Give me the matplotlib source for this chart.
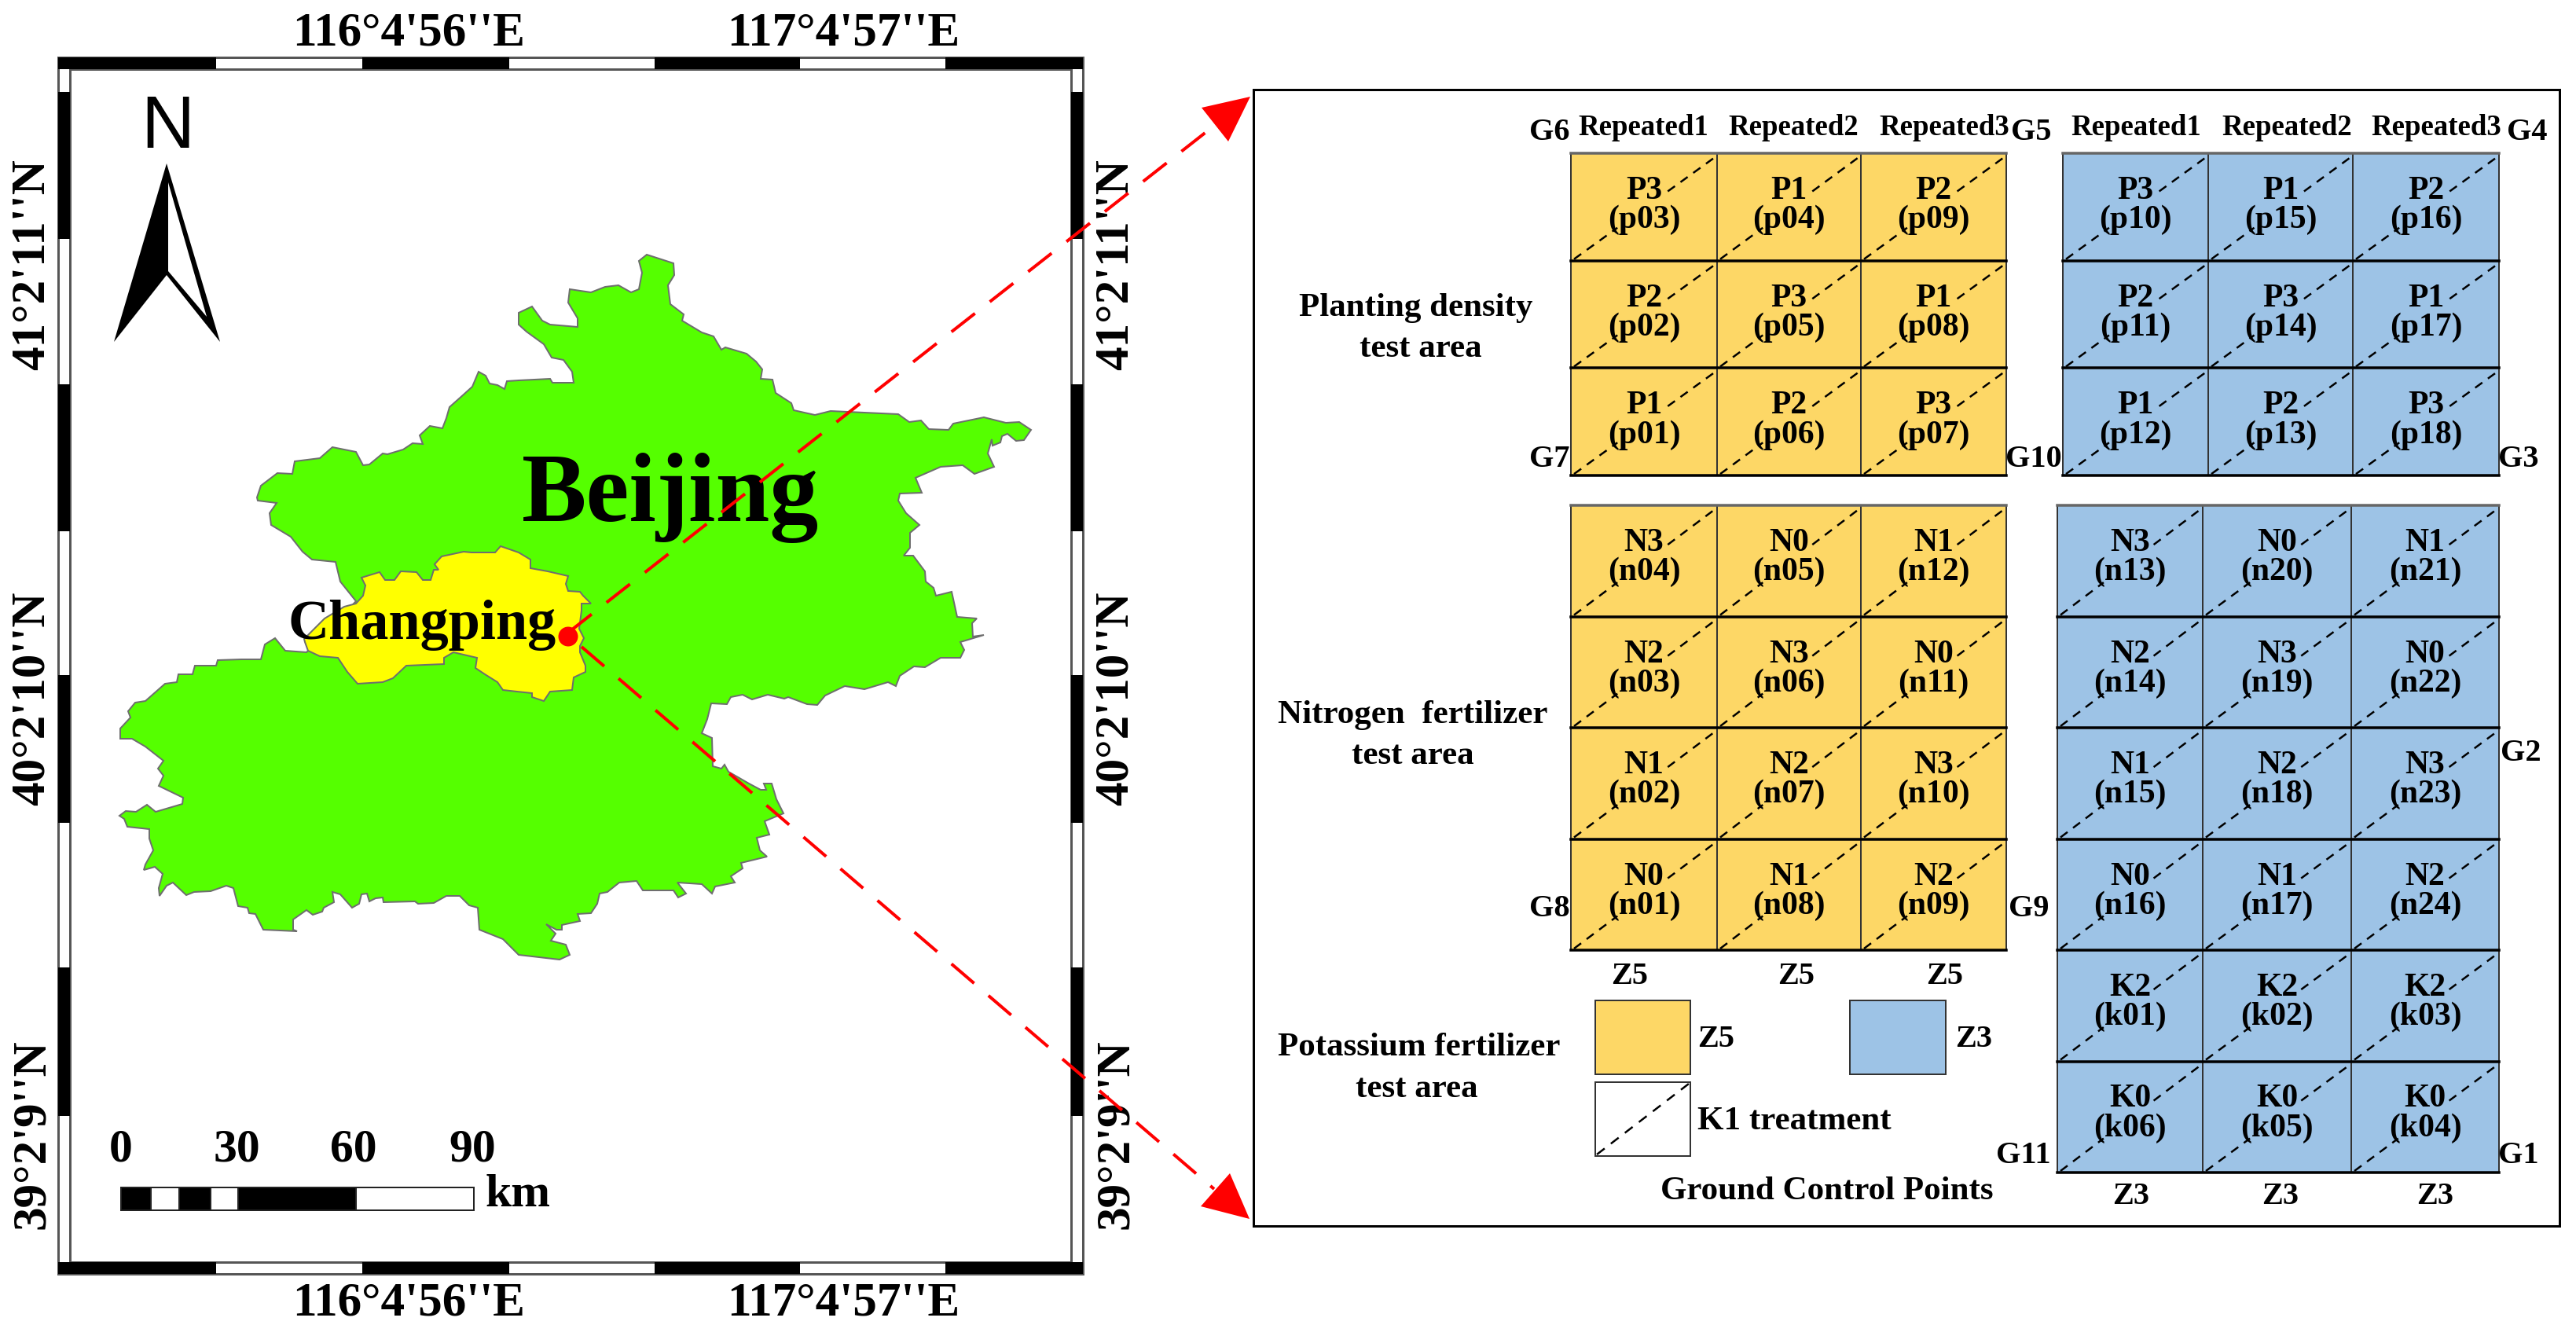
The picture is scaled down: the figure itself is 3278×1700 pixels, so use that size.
import matplotlib
matplotlib.use("Agg")
import matplotlib.pyplot as plt
from matplotlib.patches import Polygon, Rectangle, Circle

plt.rcParams["font.family"] = ["Liberation Serif", "DejaVu Serif"]
plt.rcParams["font.weight"] = "bold"

# outlines, in image pixels
beijing_outline = [
    (327, 633), (332, 618), (353, 602), (372, 603), (375, 587), (407, 583), (423, 569), (453, 575),
    (462, 592), (470, 591), (487, 577), (493, 578), (513, 572), (525, 564), (538, 565), (534, 554),
    (547, 542), (563, 545), (568, 532), (572, 518), (590, 502), (601, 492), (609, 473), (618, 478),
    (623, 488), (633, 490), (642, 495), (645, 485), (660, 484), (700, 482), (703, 487), (730, 487),
    (728, 473), (717, 458), (702, 455), (692, 438), (670, 422), (660, 413), (660, 398), (677, 390),
    (690, 408), (700, 413), (735, 416), (735, 405), (723, 385), (725, 368), (752, 372), (770, 365),
    (787, 363), (803, 372), (813, 368), (817, 347), (813, 332), (823, 324), (857, 335), (858, 350),
    (850, 363), (853, 387), (870, 400), (868, 408), (893, 423), (908, 428), (918, 445), (923, 442),
    (950, 450), (962, 460), (970, 470), (968, 482), (983, 483), (987, 500), (1007, 513), (1010, 522),
    (1037, 528), (1057, 523), (1143, 527), (1157, 537), (1172, 535), (1182, 546), (1207, 547),
    (1213, 539), (1252, 531), (1280, 538), (1297, 537), (1312, 547), (1303, 560), (1293, 561),
    (1282, 552), (1275, 555), (1273, 563), (1263, 567), (1262, 559), (1257, 577), (1265, 594),
    (1240, 603), (1225, 592), (1197, 594), (1165, 608), (1173, 627), (1145, 628), (1143, 637),
    (1153, 653), (1170, 668), (1158, 678), (1158, 697), (1150, 707), (1162, 707), (1177, 727),
    (1178, 740), (1188, 748), (1191, 758), (1211, 753), (1218, 785), (1243, 787), (1237, 793),
    (1238, 810), (1252, 808), (1222, 817), (1227, 827), (1222, 837), (1197, 837), (1177, 849),
    (1163, 848), (1145, 860), (1140, 873), (1130, 868), (1100, 877), (1075, 873), (1050, 885),
    (1040, 897), (1027, 896), (1003, 887), (998, 889), (977, 884), (957, 890), (945, 884), (930, 887),
    (925, 896), (905, 895), (900, 915), (893, 933), (906, 939), (907, 975), (918, 978), (922, 973),
    (927, 982), (953, 997), (968, 1005), (975, 1005), (972, 997), (982, 997), (988, 1017), (997, 1035),
    (973, 1045), (979, 1062), (963, 1066), (967, 1082), (976, 1090), (943, 1098), (945, 1105),
    (930, 1115), (935, 1123), (910, 1128), (906, 1137), (893, 1125), (862, 1123), (873, 1137),
    (863, 1142), (857, 1133), (818, 1133), (810, 1121), (788, 1123), (773, 1135), (763, 1137),
    (760, 1150), (752, 1162), (735, 1163), (738, 1172), (715, 1177), (715, 1183), (708, 1183),
    (695, 1176), (707, 1188), (701, 1197), (720, 1202), (725, 1215), (712, 1221), (660, 1215),
    (640, 1195), (610, 1183), (608, 1155), (597, 1152), (585, 1140), (568, 1140), (552, 1149),
    (532, 1150), (528, 1147), (488, 1148), (487, 1142), (478, 1143), (470, 1147), (467, 1137),
    (460, 1138), (457, 1150), (448, 1155), (433, 1138), (423, 1135), (425, 1148), (412, 1155),
    (410, 1160), (398, 1164), (390, 1158), (373, 1170), (373, 1183), (378, 1185), (335, 1183),
    (325, 1163), (317, 1162), (315, 1155), (303, 1153), (297, 1130), (288, 1127), (268, 1134),
    (247, 1135), (237, 1139), (220, 1123), (212, 1127), (203, 1140), (202, 1130), (207, 1112),
    (197, 1103), (183, 1107), (185, 1100), (195, 1082), (190, 1067), (190, 1055), (162, 1052),
    (158, 1042), (152, 1038), (160, 1032), (173, 1033), (187, 1024), (198, 1033), (232, 1023),
    (233, 1015), (202, 1000), (208, 987), (201, 978), (208, 968), (185, 950), (168, 940), (153, 940),
    (153, 927), (166, 913), (163, 905), (172, 894), (185, 892), (210, 870), (225, 868), (227, 858),
    (245, 858), (248, 847), (275, 847), (277, 840), (307, 839), (332, 839), (337, 820), (350, 812),
    (363, 828), (390, 830), (453, 765), (433, 740), (427, 715), (397, 712), (385, 702), (370, 683),
    (345, 668), (343, 653), (352, 640), (328, 637),
]
changping_outline = [
    (388, 817), (392, 828), (407, 835), (430, 837), (442, 855), (455, 870), (487, 868), (500, 863),
    (517, 847), (565, 845), (565, 837), (577, 830), (607, 837), (605, 850), (617, 858), (633, 868),
    (640, 878), (658, 880), (677, 882), (677, 887), (692, 892), (700, 880), (728, 878), (730, 862),
    (745, 855), (745, 847), (738, 830), (738, 822), (743, 812), (737, 800), (740, 777), (740, 768),
    (752, 768), (742, 758), (738, 753), (723, 752), (720, 743), (723, 733), (697, 727), (675, 723),
    (675, 712), (660, 703), (637, 695), (630, 703), (600, 703), (590, 702), (562, 708), (553, 718),
    (558, 725), (552, 725), (548, 738), (538, 738), (530, 728), (510, 727), (502, 738), (490, 738),
    (483, 728), (460, 735), (465, 745), (462, 758), (453, 768), (438, 772), (413, 787), (387, 813),
]

frame_x_edges = [74, 275, 461, 648, 833, 1018, 1203, 1378]
frame_y_edges = [73, 117, 304, 489, 676, 859, 1047, 1231, 1420, 1621]
lon_labels = ["116°4'56''E", "117°4'57''E"]
lon_label_x = [520, 1073]
lat_labels = ["41°2'11''N", "40°2'10''N", "39°2'9''N"]
lat_label_y = [337, 889, 1443]

scale_edges = [154, 192, 228, 268, 303, 453, 603]
scale_labels = ["0", "30", "60", "90"]
scale_label_x = [154, 301, 450, 601]

yellow_p = [["P3\n(p03)", "P1\n(p04)", "P2\n(p09)"],
            ["P2\n(p02)", "P3\n(p05)", "P1\n(p08)"],
            ["P1\n(p01)", "P2\n(p06)", "P3\n(p07)"]]
blue_p = [["P3\n(p10)", "P1\n(p15)", "P2\n(p16)"],
          ["P2\n(p11)", "P3\n(p14)", "P1\n(p17)"],
          ["P1\n(p12)", "P2\n(p13)", "P3\n(p18)"]]
yellow_n = [["N3\n(n04)", "N0\n(n05)", "N1\n(n12)"],
            ["N2\n(n03)", "N3\n(n06)", "N0\n(n11)"],
            ["N1\n(n02)", "N2\n(n07)", "N3\n(n10)"],
            ["N0\n(n01)", "N1\n(n08)", "N2\n(n09)"]]
blue_nk = [["N3\n(n13)", "N0\n(n20)", "N1\n(n21)"],
           ["N2\n(n14)", "N3\n(n19)", "N0\n(n22)"],
           ["N1\n(n15)", "N2\n(n18)", "N3\n(n23)"],
           ["N0\n(n16)", "N1\n(n17)", "N2\n(n24)"],
           ["K2\n(k01)", "K2\n(k02)", "K2\n(k03)"],
           ["K0\n(k06)", "K0\n(k05)", "K0\n(k04)"]]

repeated_labels = ["Repeated1", "Repeated2", "Repeated3"] * 2
repeated_x = [2091, 2282, 2474, 2718, 2910, 3100]

gcp_labels = ["G6", "G5", "G4", "G7", "G10", "G3", "G8", "G9", "G2", "G11", "G1"]
gcp_x = [1972, 2585, 3216, 1972, 2588, 3205, 1972, 2582, 3208, 2575, 3205]
gcp_y = [168, 168, 168, 584, 584, 584, 1157, 1157, 958, 1471, 1471]

zone_labels = ["Z5", "Z5", "Z5", "Z3", "Z3", "Z3"]
zone_x = [2074, 2286, 2475, 2712, 2902, 3099]
zone_y = [1242, 1242, 1242, 1523, 1523, 1523]

YELLOW = "#FDD766"
BLUE = "#9DC3E6"
RED = "#FF0000"

figure = plt.figure(figsize=(32.78, 17), dpi=100)
axes = figure.add_axes([0, 0, 1, 1])
axes.set_xlim(0, 3278)
axes.set_ylim(1700, 0)
axes.axis("off")


def px(n):
    # line widths are read in pixels, matplotlib wants points
    return n * 0.72


def draw_frame():
    x0, x1 = frame_x_edges[0], frame_x_edges[-1]
    y0, y1 = frame_y_edges[0], frame_y_edges[-1]
    band = 15
    axes.add_patch(Rectangle((x0, y0), x1 - x0, y1 - y0, fc="white", ec="#555555", lw=px(3), zorder=1))
    axes.add_patch(Rectangle((x0 + band, y0 + band), x1 - x0 - 2 * band, y1 - y0 - 2 * band,
                             fc="white", ec="#555555", lw=px(3), zorder=2))
    for i in range(0, len(frame_x_edges) - 1, 2):
        left, right = frame_x_edges[i], frame_x_edges[i + 1]
        axes.add_patch(Rectangle((left, y0), right - left, band, fc="black", ec="none", zorder=2))
        axes.add_patch(Rectangle((left, y1 - band), right - left, band, fc="black", ec="none", zorder=2))
    for i in range(1, len(frame_y_edges) - 1, 2):
        top, bottom = frame_y_edges[i], frame_y_edges[i + 1]
        axes.add_patch(Rectangle((x0, top), band, bottom - top, fc="black", ec="none", zorder=2))
        axes.add_patch(Rectangle((x1 - band, top), band, bottom - top, fc="black", ec="none", zorder=2))
    for label, x in zip(lon_labels, lon_label_x):
        axes.text(x, 42, label, fontsize=44, ha="center", va="center")
        axes.text(x, 1658, label, fontsize=44, ha="center", va="center")
    for label, y in zip(lat_labels, lat_label_y):
        axes.text(41, y, label, fontsize=44, rotation=90, ha="center", va="center")
        axes.text(1420, y, label, fontsize=44, rotation=90, ha="center", va="center")


def draw_north_arrow():
    axes.text(213, 163, "N", fontsize=68, family="Liberation Sans", weight="normal",
              ha="center", va="center", zorder=5)
    axes.add_patch(Polygon([(212, 208), (280, 435), (212, 350), (145, 435)], fc="black", ec="none", zorder=5))
    axes.add_patch(Polygon([(214, 232), (263, 403), (214, 345)], fc="white", ec="none", zorder=6))


def draw_scale_bar():
    for i in range(len(scale_edges) - 1):
        color = "black" if i % 2 == 0 else "white"
        axes.add_patch(Rectangle((scale_edges[i], 1511), scale_edges[i + 1] - scale_edges[i], 29,
                                 fc=color, ec="#222222", lw=px(2), zorder=5))
    for label, x in zip(scale_labels, scale_label_x):
        axes.text(x, 1463, label, fontsize=43, ha="center", va="center", zorder=5)
    axes.text(659, 1521, "km", fontsize=43, ha="center", va="center", zorder=5)


def draw_map():
    axes.add_patch(Polygon(beijing_outline, fc="#55FF00", ec="#6E6E6E", lw=px(2), zorder=3))
    axes.add_patch(Polygon(changping_outline, fc="#FFFF00", ec="#6E6E6E", lw=px(2), zorder=4))
    axes.text(664, 663, "Beijing", fontsize=89, ha="left", va="baseline", zorder=5)
    axes.text(366, 813, "Changping", fontsize=52, ha="left", va="baseline", zorder=5)


def draw_callout():
    axes.add_patch(Circle((723, 810), 12.5, fc=RED, ec="none", zorder=8))
    dash = (0, (9.5, 6))
    axes.plot([723, 1545], [805, 160], color=RED, lw=px(4), ls=dash, zorder=7)
    axes.plot([740, 1545], [823, 1513], color=RED, lw=px(4), ls=dash, zorder=7)
    axes.add_patch(Polygon([(1591, 123), (1529, 137), (1563, 180)], fc=RED, ec="none", zorder=8))
    axes.add_patch(Polygon([(1590, 1551), (1528, 1535), (1565, 1493)], fc=RED, ec="none", zorder=8))


def draw_cell_diagonal(x0, x1, y0, y1):
    # the diagonal is hidden behind the middle of the cell text
    for a, b in [(0.0, 0.31), (0.67, 1.0)]:
        axes.plot([x0 + 4 + a * (x1 - x0 - 8), x0 + 4 + b * (x1 - x0 - 8)],
                  [y1 - 2 - a * (y1 - y0 - 8), y1 - 2 - b * (y1 - y0 - 8)],
                  color="black", lw=px(2.5), ls=(0, (4.5, 3.5)), zorder=12)


def draw_grid(labels, x_edges, top, row_height, color):
    rows = len(labels)
    bottom = top + rows * row_height
    axes.add_patch(Rectangle((x_edges[0], top), x_edges[-1] - x_edges[0], rows * row_height,
                             fc=color, ec="none", zorder=10))
    for r, row in enumerate(labels):
        y0 = top + r * row_height
        y1 = y0 + row_height
        for c, label in enumerate(row):
            x0, x1 = x_edges[c], x_edges[c + 1]
            draw_cell_diagonal(x0, x1, y0, y1)
            name, code = label.split("\n")
            axes.text((x0 + x1) / 2, y0 + 48, name, fontsize=30, ha="center", va="center", zorder=13)
            axes.text((x0 + x1) / 2, y0 + 85, code, fontsize=30, ha="center", va="center", zorder=13)
    for x in x_edges:
        axes.plot([x, x], [top, bottom], color="#333333", lw=px(2), zorder=11)
    for r in range(rows + 1):
        y = top + r * row_height
        axes.plot([x_edges[0], x_edges[-1]], [y, y], color="black" if 0 < r else "#666666", lw=px(3.5), zorder=11)


def draw_panel():
    axes.add_patch(Rectangle((1595, 114), 3257 - 1595, 1560 - 114, fc="white", ec="black", lw=px(3), zorder=1))
    draw_grid(yellow_p, [1999, 2185, 2368, 2553], 195, 136.7, YELLOW)
    draw_grid(blue_p, [2625, 2810, 2994, 3180], 195, 136.7, BLUE)
    draw_grid(yellow_n, [1999, 2185, 2368, 2553], 643, 141.5, YELLOW)
    draw_grid(blue_nk, [2618, 2803, 2992, 3180], 643, 141.5, BLUE)

    for label, x in zip(repeated_labels, repeated_x):
        axes.text(x, 162, label, fontsize=26.5, ha="center", va="center", zorder=13)
    for label, x, y in zip(gcp_labels, gcp_x, gcp_y):
        axes.text(x, y, label, fontsize=29, ha="center", va="center", zorder=13)
    for label, x, y in zip(zone_labels, zone_x, zone_y):
        axes.text(x, y, label, fontsize=29, ha="center", va="center", zorder=13)

    axes.text(1802, 392, "Planting density", fontsize=31, ha="center", va="center")
    axes.text(1808, 444, "test area", fontsize=31, ha="center", va="center")
    axes.text(1798, 910, "Nitrogen  fertilizer", fontsize=31, ha="center", va="center")
    axes.text(1798, 962, "test area", fontsize=31, ha="center", va="center")
    axes.text(1806, 1333, "Potassium fertilizer", fontsize=31, ha="center", va="center")
    axes.text(1803, 1386, "test area", fontsize=31, ha="center", va="center")

    # legend
    axes.add_patch(Rectangle((2030, 1273), 121, 94, fc=YELLOW, ec="#333333", lw=px(2), zorder=10))
    axes.add_patch(Rectangle((2354, 1273), 122, 94, fc=BLUE, ec="#333333", lw=px(2), zorder=10))
    axes.add_patch(Rectangle((2030, 1377), 121, 94, fc="white", ec="#333333", lw=px(2), zorder=10))
    axes.plot([2032, 2149], [1469, 1379], color="black", lw=px(2.5), ls=(0, (5, 4)), zorder=12)
    axes.text(2160, 1322, "Z5", fontsize=29, ha="left", va="center")
    axes.text(2488, 1322, "Z3", fontsize=29, ha="left", va="center")
    axes.text(2160, 1427, "K1 treatment", fontsize=31, ha="left", va="center")
    axes.text(2325, 1516, "Ground Control Points", fontsize=31, ha="center", va="center")


draw_frame()
draw_map()
draw_north_arrow()
draw_scale_bar()
draw_panel()
draw_callout()

figure.savefig("out.png", dpi=100)
